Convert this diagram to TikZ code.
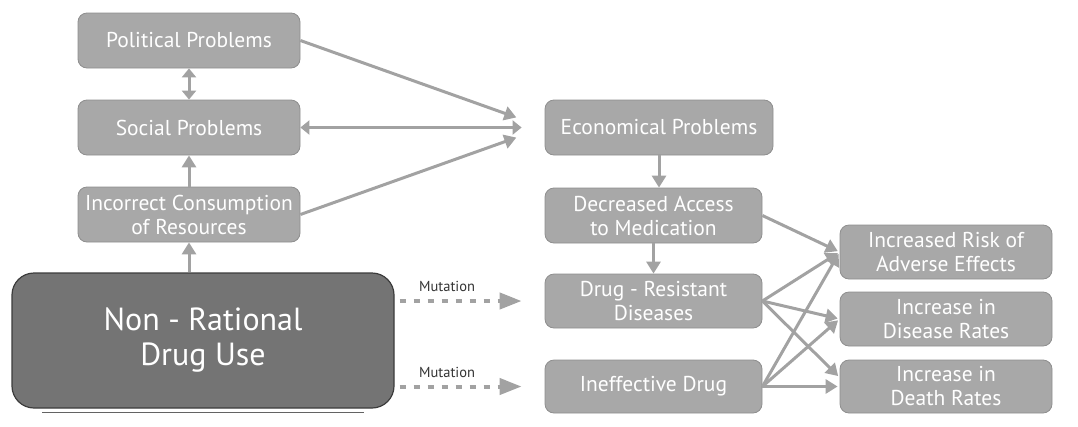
\documentclass[tikz,border=0pt]{standalone}
\usepackage{fontspec}
\setmainfont{PT Sans}
\usepackage{tikz}
\usetikzlibrary{arrows.meta}

\definecolor{boxgray}{HTML}{A8A8A8}
\definecolor{boxline}{HTML}{8E8E8E}
\definecolor{darkbox}{HTML}{747474}
\definecolor{darkline}{HTML}{3C3C3C}
\definecolor{arrowgray}{HTML}{A2A2A2}
\definecolor{labelgray}{HTML}{333333}

\begin{document}
\begin{tikzpicture}[x=1pt, y=-1pt,
    box/.style={draw=boxline, fill=boxgray, line width=0.8pt, rounded corners=9pt,
        text=white, align=center, inner sep=0pt,
        font=\fontsize{21.5}{24}\selectfont},
    bigbox/.style={draw=darkline, fill=darkbox, line width=1.2pt, rounded corners=22pt,
        text=white, align=center, inner sep=0pt,
        font=\fontsize{32}{35}\selectfont},
    arr/.style={draw=arrowgray, line width=3pt, -{Triangle[length=12pt,width=14pt]}},
    dbl/.style={draw=arrowgray, line width=3pt, {Triangle[length=9pt,width=14pt]}-{Triangle[length=9pt,width=14pt]}},
    mut/.style={draw=arrowgray, line width=4pt, dash pattern=on 6pt off 8pt,
        -{Triangle[length=22pt,width=16pt]}},
    mutlabel/.style={text=labelgray, font=\fontsize{14.5}{16}\selectfont}]
    \useasboundingbox (0,0) rectangle (1078,426);

    %% left column
    \node[box, minimum width=222pt, minimum height=55pt] (pol) at (189,40.5) {Political Problems};
    \node[box, minimum width=222pt, minimum height=55pt] (soc) at (189,127.5) {Social Problems};
    \node[box, minimum width=222pt, minimum height=55pt] (inc) at (189,214.5) {Incorrect Consumption\\of Resources};
    \node[bigbox, minimum width=382pt, minimum height=135pt] (nrdu) at (203,340.5) {Non - Rational\\Drug Use};
    \draw[line width=1.5pt, darkline!80] ([xshift=31pt,yshift=-4pt]nrdu.south west) -- ([xshift=-31pt,yshift=-4pt]nrdu.south east);

    %% middle column
    \node[box, minimum width=228pt, minimum height=55pt] (eco) at (659,127.5) {Economical Problems};
    \node[box, minimum width=217pt, minimum height=55pt] (dec) at (653.5,215.5) {Decreased Access\\to Medication};
    \node[box, minimum width=217pt, minimum height=54pt] (res) at (653.5,301) {Drug - Resistant\\Diseases};
    \node[box, minimum width=217pt, minimum height=53pt] (ineff) at (653.5,386.5) {Ineffective Drug};

    %% right column
    \node[box, minimum width=212pt, minimum height=54pt] (risk) at (946,252) {Increased Risk of\\Adverse Effects};
    \node[box, minimum width=212pt, minimum height=54pt] (dis) at (946,319) {Increase in\\Disease Rates};
    \node[box, minimum width=212pt, minimum height=53pt] (death) at (946,386.5) {Increase in\\Death Rates};

    %% arrows of the left column
    \draw[dbl] (pol) -- (soc);
    \draw[arr] (inc) -- (soc);
    \draw[arr] (inc.south |- nrdu.north) -- (inc.south);
    \draw[arr, shorten >=30pt] (pol.east) -- (eco.west);
    \draw[dbl, shorten >=23pt] (soc.east) -- (eco.west);
    \draw[arr, shorten >=30pt] (inc.east) -- (eco.west);

    %% mutations
    \draw[mut, shorten <=5pt, shorten >=23pt] (nrdu.east |- res.west) -- (res.west)
        node[mutlabel, pos=0.35, above=4pt] (mut1) {Mutation};
    \draw[mut, shorten <=5pt, shorten >=23pt] (nrdu.east |- ineff.west) -- (ineff.west)
        node[mutlabel, pos=0.35, above=4pt] (mut2) {Mutation};

    %% arrows of the middle column
    \draw[arr] (eco.south) -- (eco.south |- dec.north);
    \draw[arr] (dec) -- (res);

    %% arrows to the right column
    \draw[arr, shorten >=2pt] (dec.east) -- (risk.west);
    \draw[arr, shorten >=2pt] (res.east) -- (risk.west);
    \draw[arr, shorten >=2pt] (res.east) -- (dis.west);
    \draw[arr, shorten >=2pt] (res.east) -- ([yshift=9pt]death.west);
    \draw[arr, shorten >=2pt] (ineff.east) -- (risk.west);
    \draw[arr, shorten >=2pt] (ineff.east) -- (dis.west);
    \draw[arr, shorten >=2pt] (ineff.east) -- (death.west);
\end{tikzpicture}
\end{document}
